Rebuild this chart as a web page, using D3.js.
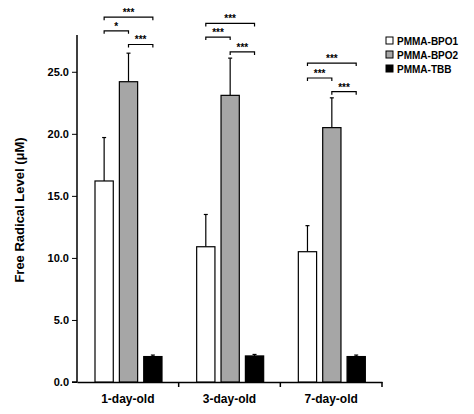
<!DOCTYPE html><html><head><meta charset="utf-8"><script src="https://cdn.jsdelivr.net/npm/d3@7"></script>
<style>body{margin:0;background:#fff}text{font-family:Arial,"Liberation Sans",sans-serif;font-weight:bold}</style></head><body>
<svg id="c" width="474" height="414"></svg>
<script>
const categories=["1-day-old","3-day-old","7-day-old"];
const series=["PMMA-BPO1","PMMA-BPO2","PMMA-TBB"];
const colors=["#ffffff","#a6a6a6","#000000"];
const means=[[16.2,24.2,2.05],[10.9,23.1,2.1],[10.5,20.5,2.05]];
const errs=[[3.5,2.3,0.12],[2.6,3.0,0.12],[2.1,2.4,0.12]];
const yTicks=[0,5,10,15,20,25];
// brackets: [group, from series, to series, label, level value]
const sig=[[0,0,2,"***",29.4],[0,0,1,"*",28.3],[0,1,2,"***",27.2],
[1,0,2,"***",28.9],[1,0,1,"***",27.8],[1,1,2,"***",26.6],
[2,0,2,"***",25.7],[2,0,1,"***",24.5],[2,1,2,"***",23.4]];
const svg=d3.select("#c");
const y=d3.scaleLinear().domain([0,27.4]).range([382,42]);
const x=d3.scaleBand().domain(categories).range([77,382]).paddingInner(0).paddingOuter(0);
const xs=d3.scaleBand().domain(d3.range(3)).range([18,85]).paddingInner(0.25);
svg.append("g").attr("transform","translate(77,0)").call(d3.axisLeft(y).tickValues(yTicks).tickFormat(d3.format(".1f")).tickSize(5))
 .call(g=>{g.select(".domain").attr("stroke-width",1.5).attr("d","M-5,382H0V35");g.selectAll("text").attr("font-size",11).attr("fill","#000");});
svg.append("g").attr("transform","translate(0,382)").call(d3.axisBottom(x).tickSize(0).tickPadding(12))
 .call(g=>{g.select(".domain").attr("stroke-width",1.5);g.selectAll("text").attr("font-size",12).attr("fill","#000");});
[1,2,3].forEach(i=>svg.append("line").attr("x1",77+i*x.bandwidth()).attr("x2",77+i*x.bandwidth()).attr("y1",382).attr("y2",387).attr("stroke","#000").attr("stroke-width",1.5));
categories.forEach((c,gi)=>{
 const g=svg.append("g").attr("transform",`translate(${x(c)},0)`);
 means[gi].forEach((m,si)=>{
  const cx=xs(si)+xs.bandwidth()/2;
  g.append("line").attr("x1",cx).attr("x2",cx).attr("y1",y(m)).attr("y2",y(m+errs[gi][si])).attr("stroke","#000").attr("stroke-width",1.2);
  g.append("line").attr("x1",cx-2).attr("x2",cx+2).attr("y1",y(m+errs[gi][si])).attr("y2",y(m+errs[gi][si])).attr("stroke","#000").attr("stroke-width",1.2);
  g.append("rect").attr("x",xs(si)).attr("width",xs.bandwidth()).attr("y",y(m)).attr("height",y(0)-y(m)).attr("fill",colors[si]).attr("stroke","#000").attr("stroke-width",1.2);
 });
});
sig.forEach(([gi,a,b,lab,lv])=>{
 const x1=x(categories[gi])+xs(a)+xs.bandwidth()/2, x2=x(categories[gi])+xs(b)+xs.bandwidth()/2, yy=y(lv);
 svg.append("path").attr("d",`M${x1},${yy+3}V${yy}H${x2}V${yy+3}`).attr("fill","none").attr("stroke","#000").attr("stroke-width",1.2);
 svg.append("text").attr("x",(x1+x2)/2).attr("y",yy-1).attr("text-anchor","middle").attr("font-size",10).text(lab);
});
series.forEach((s,i)=>{
 svg.append("rect").attr("x",386).attr("y",37+i*14).attr("width",7).attr("height",7).attr("fill",colors[i]).attr("stroke","#000");
 svg.append("text").attr("x",397).attr("y",44.5+i*14).attr("font-size",10).text(s);
});
svg.append("text").attr("transform","translate(24,210) rotate(-90)").attr("text-anchor","middle").attr("font-size",13).text("Free Radical Level (μM)");
</script></body></html>
